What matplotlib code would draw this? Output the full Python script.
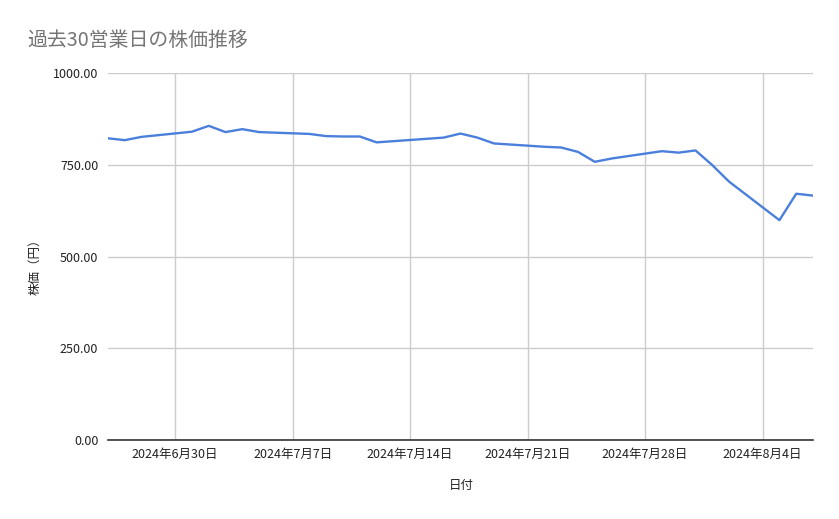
import matplotlib
matplotlib.use("Agg")
import matplotlib.pyplot as plt
import pandas as pd

plt.rcParams['font.family'] = ['Noto Sans CJK JP', 'DejaVu Sans']

# 過去30営業日の終値
dates = ["2024-06-26", "2024-06-27", "2024-06-28",
         "2024-07-01", "2024-07-02", "2024-07-03", "2024-07-04", "2024-07-05",
         "2024-07-08", "2024-07-09", "2024-07-10", "2024-07-11", "2024-07-12",
         "2024-07-16", "2024-07-17", "2024-07-18", "2024-07-19",
         "2024-07-22", "2024-07-23", "2024-07-24", "2024-07-25", "2024-07-26",
         "2024-07-29", "2024-07-30", "2024-07-31", "2024-08-01", "2024-08-02",
         "2024-08-05", "2024-08-06", "2024-08-07"]
prices = [822, 817, 826,
          840, 856, 839, 847, 839,
          834, 828, 827, 827, 811,
          824, 835, 824, 808,
          799, 797, 785, 758, 767,
          787, 783, 789, 749, 704,
          599, 671, 666]
tick_dates = ["2024-06-30", "2024-07-07", "2024-07-14",
              "2024-07-21", "2024-07-28", "2024-08-04"]
y_ticks = [0, 250, 500, 750, 1000]

x = pd.to_datetime(dates)
xt = pd.to_datetime(tick_dates)

fig = plt.figure(figsize=(8.39, 5.19), dpi=100)
ax = fig.add_axes([108 / 839, 1 - 440 / 519, (813 - 108) / 839, (440 - 73) / 519])

ax.plot(x, prices, color='#4a80dc', linewidth=1.7)

ax.set_xlim(x[0], x[-1])
ax.set_ylim(0, 1000)
ax.set_yticks(y_ticks)
ax.set_yticklabels([f"{v:.2f}" for v in y_ticks])
ax.set_xticks(xt)
ax.set_xticklabels([f"{d.year}年{d.month}月{d.day}日" for d in xt])

ax.grid(True, color='#cccccc', linewidth=1)
ax.set_axisbelow(True)
for s in ['top', 'right', 'left']:
    ax.spines[s].set_visible(False)
ax.spines['bottom'].set_color('#333333')
ax.spines['bottom'].set_linewidth(1.2)
ax.tick_params(length=0, labelsize=9, labelcolor='#222222')
ax.tick_params(axis='y', pad=7)
ax.tick_params(axis='x', pad=6)

fig.text(27 / 839, 1 - 40 / 519, "過去30営業日の株価推移", fontsize=14.3,
         color='#757575', va='center', ha='left')
fig.text(461 / 839, 1 - 486 / 519, "日付", fontsize=9, color='#222222',
         ha='center', va='center')
fig.text(35 / 839, 1 - 264 / 519, "株価（円）", fontsize=9, color='#222222',
         rotation=90, ha='center', va='center')

fig.savefig("out.png", dpi=100)
